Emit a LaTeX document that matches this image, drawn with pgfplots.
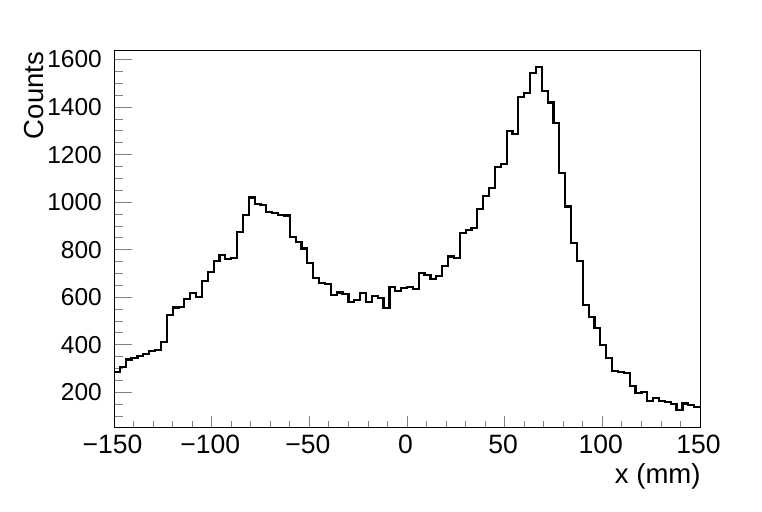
\documentclass[border=0pt]{standalone}
\usepackage{fontspec}
\setmainfont{Liberation Sans}
\usepackage{pgfplots}
\pgfplotsset{compat=1.18}
\usepackage{pgfplotstable}
\pgfplotstableread{
x y
-150 285
-147 306
-144 338
-141 344
-138 354
-135 362
-132 373
-129 379
-126 411
-123 526
-120 557
-117 559
-114 591
-111 619
-108 602
-105 669
-102 707
-99 754
-96 779
-93 762
-90 765
-87 875
-84 946
-81 1020
-78 991
-75 988
-72 957
-69 955
-66 946
-63 944
-60 855
-57 833
-54 805
-51 745
-48 682
-45 661
-42 655
-39 609
-36 620
-33 613
-30 581
-27 589
-24 619
-21 581
-18 605
-15 598
-12 555
-9 644
-6 627
-3 638
0 644
3 636
6 703
9 693
12 678
15 689
18 731
21 771
24 765
27 870
30 884
33 892
36 972
39 1025
42 1060
45 1149
48 1159
51 1301
54 1288
57 1441
60 1458
63 1542
66 1569
69 1469
72 1419
75 1332
78 1123
81 982
84 827
87 753
90 567
93 517
96 472
99 400
102 345
105 289
108 285
111 280
114 228
117 197
120 202
123 162
126 175
129 162
132 158
135 151
138 127
141 153
144 147
147 137
150 137
}\histdata
\begin{document}
\begin{tikzpicture}
\path[use as bounding box] (0,0) rectangle (762pt,511pt);
\begin{axis}[
  scale only axis,
  width=586pt, height=376pt,
  at={(114pt,84pt)}, anchor=south west,
  xmin=-150, xmax=150, ymin=54, ymax=1636,
  axis line style={line width=1pt},
  tick align=inside,
  xtick pos=bottom, ytick pos=left,
  xtick={-150,-100,-50,0,50,100,150},
  xticklabels={−150,−100,−50,0,50,100,150},
  ytick={200,400,600,800,1000,1200,1400,1600},
  yticklabels={200,400,600,800,1000,1200,1400,1600},
  minor xtick={-150,-140,...,150},
  minor ytick={100,150,...,1600},
  xtick style={/pgfplots/major tick length=11.3pt,/pgfplots/minor tick length=5.6pt, line width=0.8pt},
  ytick style={/pgfplots/major tick length=17.6pt,/pgfplots/minor tick length=8.8pt, line width=0.8pt},
  xticklabel style={font=\fontsize{26.5}{30}\selectfont, anchor=north, inner sep=0pt, yshift=-8pt, xshift=-1.5pt},
  yticklabel style={font=\fontsize{24.5}{28}\selectfont, anchor=east, inner sep=0pt, xshift=-12pt},
  label style={font=\fontsize{27.5}{32}\selectfont},
  xlabel={x (mm)},
  xlabel style={at={(axis description cs:1.0012,-0.1497)}, anchor=base east, inner sep=0pt},
  ylabel={Counts},
  ylabel style={at={(axis description cs:-0.1206,0.998)}, anchor=base east, inner sep=0pt},
]
\addplot[const plot, black, line width=2.2pt, no marks] table[x=x,y=y] {\histdata};
\end{axis}
\end{tikzpicture}
\end{document}
